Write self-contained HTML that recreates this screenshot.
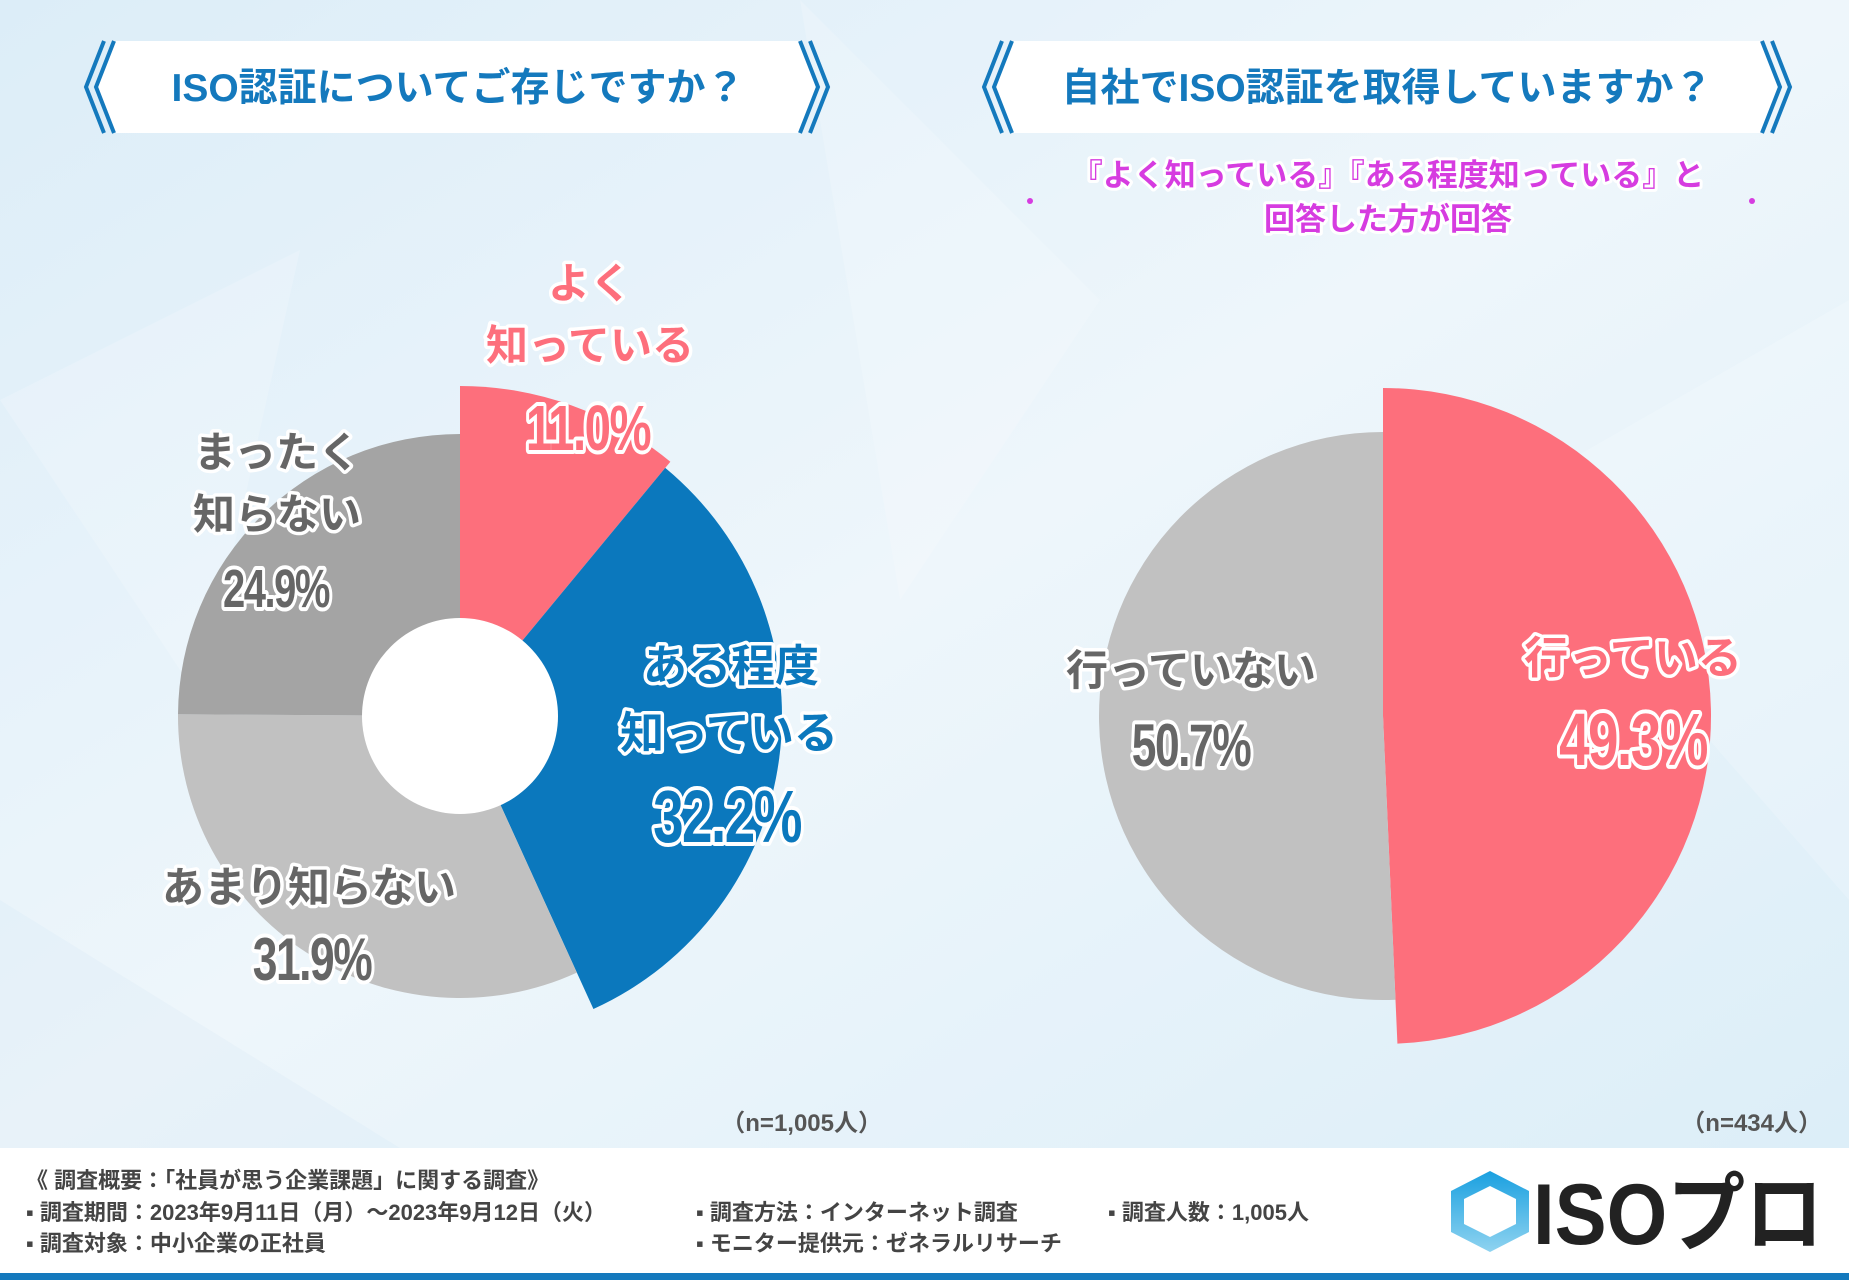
<!DOCTYPE html>
<html><head><meta charset="utf-8"><style>
body{margin:0;width:1849px;height:1280px;overflow:hidden;font-family:"Liberation Sans","Noto Sans CJK JP",sans-serif}
svg text{font-family:"Liberation Sans","Noto Sans CJK JP",sans-serif;font-weight:bold;paint-order:stroke;stroke-linejoin:round}
</style></head><body>
<svg id="c" width="1849" height="1280" viewBox="0 0 1849 1280" xmlns="http://www.w3.org/2000/svg">
<defs>
<linearGradient id="bg" x1="0" y1="0" x2="1" y2="1"><stop offset="0" stop-color="#dcedf8"/><stop offset="0.5" stop-color="#eef6fb"/><stop offset="1" stop-color="#dceef8"/></linearGradient>
<linearGradient id="hex" x1="0" y1="0" x2="0" y2="1"><stop offset="0" stop-color="#1aa0e0"/><stop offset="1" stop-color="#8fd3f0"/></linearGradient>
</defs>
<rect width="1849" height="1148" fill="url(#bg)"/>
<g opacity="0.18">
<polygon points="0,400 300,250 200,700" fill="#ffffff"/>
<polygon points="800,0 1100,300 900,600" fill="#ffffff"/>
<polygon points="1500,500 1849,300 1849,900" fill="#ffffff"/>
<polygon points="0,900 400,1148 0,1148" fill="#cfe6f4"/>
</g>
<rect y="1148" width="1849" height="132" fill="#ffffff"/>
<rect y="1273" width="1849" height="7" fill="#1479bd"/>

<g>
<polygon points="116,41 798,41 816,87 798,133 116,133 98,87" fill="#fff"/>
<polyline points="114,41 96,87 114,133" fill="none" stroke="#1479bd" stroke-width="4"/>
<polyline points="104,41 86,87 104,133" fill="none" stroke="#1479bd" stroke-width="4"/>
<polyline points="800,41 818,87 800,133" fill="none" stroke="#1479bd" stroke-width="4"/>
<polyline points="810,41 828,87 810,133" fill="none" stroke="#1479bd" stroke-width="4"/>
<text x="458" y="101" font-size="39" fill="#1479bd" text-anchor="middle">ISO認証についてご存じですか？</text>
</g>
<g>
<polygon points="1014,41 1760,41 1778,87 1760,133 1014,133 996,87" fill="#fff"/>
<polyline points="1012,41 994,87 1012,133" fill="none" stroke="#1479bd" stroke-width="4"/>
<polyline points="1002,41 984,87 1002,133" fill="none" stroke="#1479bd" stroke-width="4"/>
<polyline points="1762,41 1780,87 1762,133" fill="none" stroke="#1479bd" stroke-width="4"/>
<polyline points="1772,41 1790,87 1772,133" fill="none" stroke="#1479bd" stroke-width="4"/>
<text x="1387" y="101" font-size="39" fill="#1479bd" text-anchor="middle">自社でISO認証を取得していますか？</text>
</g>
<g font-size="31" fill="#d63ce0" stroke="#fff" stroke-width="6" text-anchor="middle">
<text x="1388" y="186">『よく知っている』『ある程度知っている』と</text>
<text x="1388" y="230">回答した方が回答</text>
<circle cx="1030" cy="201" r="3" fill="#d63ce0" stroke="none"/>
<circle cx="1752" cy="201" r="3" fill="#d63ce0" stroke="none"/>
</g>
<g id="pies"></g>
<g font-size="24" fill="#555" text-anchor="end">
<text x="882" y="1131">（n=1,005人）</text>
<text x="1822" y="1131">（n=434人）</text>
</g>
<g font-size="22" fill="#444">
<text x="26" y="1188">《 調査概要：「社員が思う企業課題」に関する調査》</text>
<text x="26" y="1220">▪ 調査期間：2023年9月11日（月）～2023年9月12日（火）</text>
<text x="26" y="1251">▪ 調査対象：中小企業の正社員</text>
<text x="696" y="1220">▪ 調査方法：インターネット調査</text>
<text x="696" y="1251">▪ モニター提供元：ゼネラルリサーチ</text>
<text x="1108" y="1220">▪ 調査人数：1,005人</text>
</g>
<g>
<polygon points="1490,1171 1529,1191 1529,1232 1490,1252 1451,1232 1451,1191" fill="url(#hex)"/>
<polygon points="1490,1186 1516,1199 1516,1224 1490,1237 1464,1224 1464,1199" fill="#fff"/>
<text x="1533" y="1244" font-size="86" fill="#222" textLength="290" lengthAdjust="spacingAndGlyphs">ISOプロ</text>
</g>
</svg>
<script>
const leftCategories = ['よく知っている','ある程度知っている','あまり知らない','まったく知らない'];
const leftValues = [11.0, 32.2, 31.9, 24.9];
const leftLabels = ['11.0%','32.2%','31.9%','24.9%'];
const rightCategories = ['行っている','行っていない'];
const rightValues = [49.3, 50.7];
const rightLabels = ['49.3%','50.7%'];

const NS='http://www.w3.org/2000/svg';
const g=document.getElementById('pies');
function pt(cx,cy,r,a){const t=a*Math.PI/180;return [cx+r*Math.sin(t),cy-r*Math.cos(t)];}
function drawPie(cx,cy,values,radii,colors,hole,name){
  const total=values.reduce((a,b)=>a+b,0);let a0=0;
  values.forEach((v,i)=>{
    const a1=a0+v/total*360;const r=radii[i];
    const p0=pt(cx,cy,r,a0),p1=pt(cx,cy,r,a1);
    const large=(a1-a0)>180?1:0;
    const p=document.createElementNS(NS,'path');
    p.setAttribute('d',`M${cx},${cy} L${p0[0]},${p0[1]} A${r},${r} 0 ${large} 1 ${p1[0]},${p1[1]} Z`);
    p.setAttribute('fill',colors[i]);
    
    
    g.appendChild(p);a0=a1;
  });
  if(hole){const c=document.createElementNS(NS,'circle');c.setAttribute('cx',cx);c.setAttribute('cy',cy);c.setAttribute('r',hole);c.setAttribute('fill','#fff');
    
    
    g.appendChild(c);}
}
function txt(x,y,s,size,fill,nm,narrow){
  const t=document.createElementNS(NS,'text');
  t.setAttribute('x',x);t.setAttribute('y',y);t.setAttribute('font-size',size);
  t.setAttribute('fill',fill);t.setAttribute('stroke','#fff');t.setAttribute('stroke-width',narrow?8:7);
  t.setAttribute('text-anchor','middle');
  if(narrow){t.setAttribute('transform',`translate(${x},0) scale(0.74,1) translate(${-x},0)`);t.setAttribute('letter-spacing','-2');}
  t.textContent=s;
  
  
  g.appendChild(t);
}
drawPie(460,716,leftValues,[330,322,282,282],['#fd6f7c','#0b78bd','#c1c1c1','#a4a4a4'],98,'left-pie');
drawPie(1383,716,rightValues,[328,284],['#fd6f7c','#c1c1c1'],0,'right-pie');

txt(590,298,'よく',42,'#fd6f7c','label-know-well-1');
txt(590,360,'知っている',42,'#fd6f7c','label-know-well-2');
txt(588,450,leftLabels[0],64,'#fd6f7c','value-know-well',true);
txt(731,681,'ある程度',44,'#0b78bd','label-somewhat-1');
txt(729,748,'知っている',44,'#0b78bd','label-somewhat-2');
txt(727,842,leftLabels[1],74,'#0b78bd','value-somewhat',true);
txt(309,902,'あまり知らない',42,'#666','label-not-much');
txt(312,980,leftLabels[2],60,'#666','value-not-much',true);
txt(277,467,'まったく',42,'#666','label-not-at-all-1');
txt(277,529,'知らない',42,'#666','label-not-at-all-2');
txt(276,607,leftLabels[3],54,'#666','value-not-at-all',true);
txt(1633,673,rightCategories[0],44,'#fd6f7c','label-yes');
txt(1633,765,rightLabels[0],74,'#fd6f7c','value-yes',true);
txt(1191,685,rightCategories[1],42,'#666','label-no');
txt(1191,766,rightLabels[1],60,'#666','value-no',true);
</script>
</body></html>
